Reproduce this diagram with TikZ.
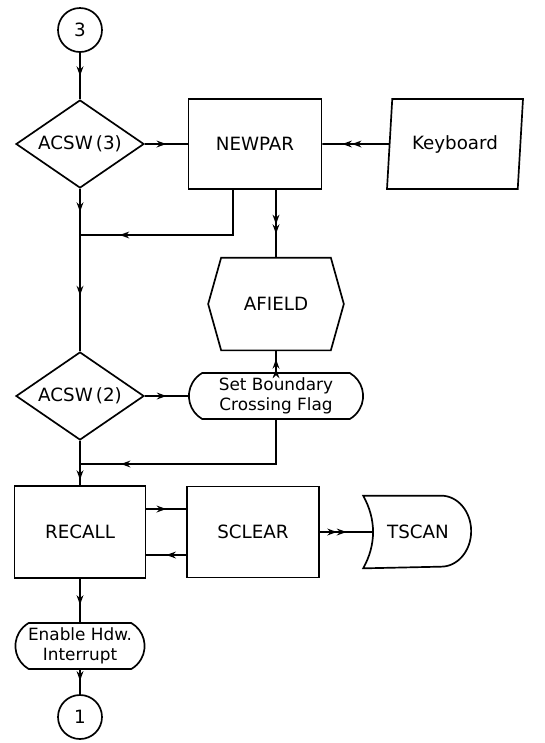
\documentclass[tikz,border=0pt]{standalone}
\usepackage{fontspec}
\setmainfont{DejaVu Sans}
\usetikzlibrary{shapes.geometric, shapes.misc, arrows.meta, decorations.markings, positioning, calc}

\begin{document}
\begin{tikzpicture}[
    font=\fontsize{13}{14}\selectfont,
    line width=1.2pt,
    >={Stealth[length=2.4mm, width=1.7mm]},
    procbox/.style={draw, rectangle, minimum width=3.3cm, minimum height=2.275cm},
    decision/.style={draw, diamond, aspect=1.45, inner sep=0pt, minimum width=3.2cm, minimum height=2.2cm},
    terminal/.style={draw, rounded rectangle, rounded rectangle arc length=120, align=center,
        font=\fontsize{12}{14}\selectfont, inner xsep=1pt, inner ysep=2pt, minimum height=1.15cm},
    connector/.style={draw, circle, inner sep=0pt, minimum size=1.1cm},
    flow/.style={postaction={decorate, decoration={markings, mark=at position #1 with {\arrow{>}}}}},
    flow/.default=0.5,
    dblflow/.style={postaction={decorate, decoration={markings, mark=at position #1 with {\arrow{>>}}}}},
    dblflow/.default=0.5
]
\useasboundingbox (0,0) rectangle (13.625,-18.575);

% Main column
\node[connector] (c3) at (2.0,-0.75) {3};
\node[decision] (acsw3) at (2.0,-3.6) {ACSW\,(3)};
\coordinate (j1) at (2.0,-5.875);
\node[decision] (acsw2) at (2.0,-9.9) {ACSW\,(2)};
\coordinate (j2) at (2.0,-11.6);
\node[procbox, minimum width=3.275cm, minimum height=2.3cm] (recall) at (2.0,-13.3) {RECALL};
\node[terminal, minimum width=3.3cm] (enable) at (2.0,-16.15) {Enable Hdw.\\Interrupt};
\node[connector] (c1) at (2.0,-17.925) {1};

% Right side
\node[procbox, minimum width=3.325cm, minimum height=2.25cm] (newpar) at (6.375,-3.6) {NEWPAR};
\node[draw, trapezium, trapezium left angle=79, trapezium right angle=101, trapezium stretches body,
      minimum width=3.4cm, minimum height=2.25cm] (keyboard) at (11.375,-3.6) {Keyboard};
\node[minimum width=2.7cm, minimum height=2.275cm, inner sep=0pt] (afield) at (6.9,-7.6) {AFIELD};
\draw (afield.north west) -- (afield.north east) -- ($(afield.east)+(0.325,0)$)
    -- (afield.south east) -- (afield.south west) -- ($(afield.west)+(-0.325,0)$) -- cycle;
\node[terminal, minimum width=4.425cm] (setflag) at (6.9,-9.9) {Set Boundary\\Crossing Flag};
\node[procbox] (sclear) at (6.325,-13.3) {SCLEAR};
\node[minimum width=2.7cm, minimum height=1.775cm, inner sep=0pt] (tscan) at (10.45,-13.3) {TSCAN};
\draw (tscan.north west) -- ++(1.95,0)
    arc[start angle=90, end angle=-90, x radius=0.75cm, y radius=0.8875cm]
    -- (tscan.south west) .. controls +(0.33,0.59) and +(0.33,-0.59) .. (tscan.north west) -- cycle;
\coordinate (tscanin) at ($(tscan.west)+(0.25,0)$);

% Flow lines
\draw[flow] (c3) -- (acsw3);
\draw[flow] (acsw3) -- (j1);
\draw[flow=0.52] (j1) -- (acsw2);
\draw (acsw2) -- (j2);
\draw[flow=0.75] (j2) -- (recall);
\draw[flow=0.6] (recall) -- (enable);
\draw[flow=0.45] (enable) -- (c1);

\draw[flow] (acsw3) -- (newpar);
\draw[dblflow=0.7] (keyboard) -- (newpar);
\draw[flow=0.8] ([xshift=-0.55cm]newpar.south) |- (j1);
\draw[dblflow=0.65] (newpar.south -| afield.north) -- (afield.north);
\draw[flow] (acsw2) -- (setflag);
\draw[dblflow=0.6] (setflag) -- (afield);
\draw[flow=0.83] (setflag.south) |- (j2);
\draw[flow] ([yshift=0.575cm]recall.east) -- ([yshift=0.575cm]sclear.west);
\draw[flow] ([yshift=-0.575cm]sclear.west) -- ([yshift=-0.575cm]recall.east);
\draw[dblflow] (sclear) -- (tscanin);

\end{tikzpicture}
\end{document}
